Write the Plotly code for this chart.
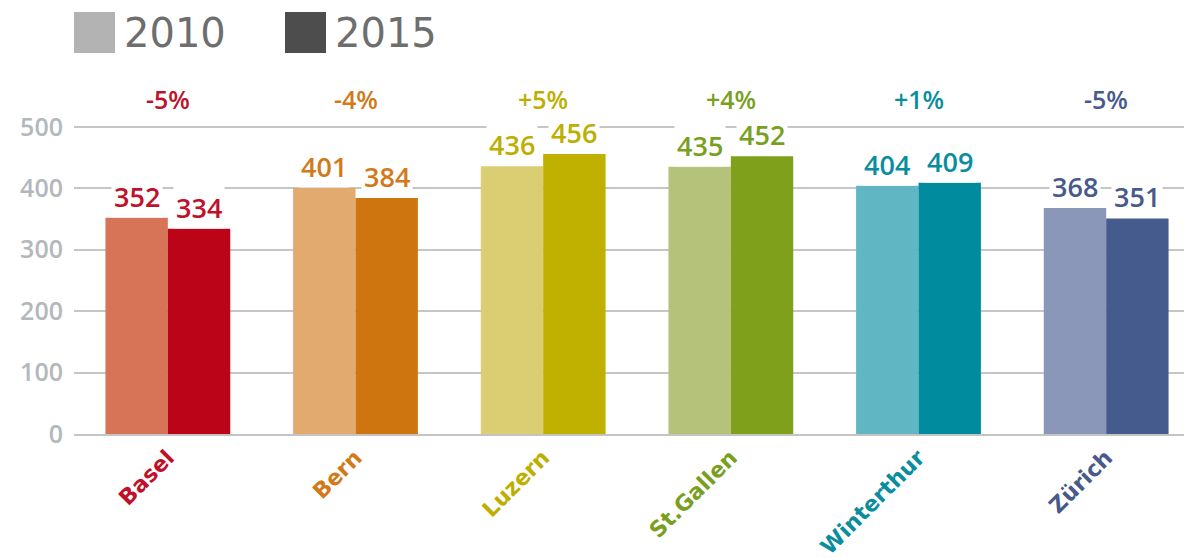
import plotly.graph_objects as go

cities = ["Basel", "Bern", "Luzern", "St.Gallen", "Winterthur", "Zürich"]
values_2010 = [352, 401, 436, 435, 404, 368]
values_2015 = [334, 384, 456, 452, 409, 351]
change_labels = ["-5%", "-4%", "+5%", "+4%", "+1%", "-5%"]
y_ticks = [0, 100, 200, 300, 400, 500]

colors_2010 = ["#D77457", "#E3AA6F", "#DBCD72", "#B4C27A", "#60B6C3", "#8B97B9"]
colors_2015 = ["#BC0419", "#CF7510", "#C0B000", "#7FA01A", "#008B9F", "#455B8D"]
text_colors = ["#C0102A", "#D27A18", "#BDAE00", "#78A01E", "#0A8D9F", "#48598C"]

W, H = 1192, 558
OFF = 8  # page body margin
L, R, T, B = 66, 0, 82, 132
BARGAP = 0.335
YMAX = 560
FONT = "DejaVu Sans"
NUMFONT = "Open Sans"

fig = go.Figure()
fig.add_trace(go.Bar(name="2010", x=cities, y=values_2010,
                     marker=dict(color=colors_2010, line=dict(width=0))))
fig.add_trace(go.Bar(name="2015", x=cities, y=values_2015,
                     marker=dict(color=colors_2015, line=dict(width=0))))

# value labels above each bar (white box hides gridlines)
bar_w = (1 - BARGAP) / 2
annotations = []
for i, c in enumerate(cities):
    for off, v in ((-bar_w / 2, values_2010[i]), (bar_w / 2, values_2015[i])):
        annotations.append(dict(
            x=i + off, y=v, xref="x", yref="y", text=str(v), showarrow=False,
            yanchor="bottom", xanchor="center", bgcolor="white", borderpad=2,
            font=dict(family=NUMFONT, size=27, color=text_colors[i], weight=600),
        ))
    annotations.append(dict(
        x=i, y=545, xref="x", yref="y", text=change_labels[i], showarrow=False,
        yanchor="middle", xanchor="center",
        font=dict(family=NUMFONT, size=25, color=text_colors[i], weight=600),
    ))

pw, ph = W - L - R, H - T - B
def px_x(p):
    return (p - OFF - L) / pw
def px_y(p):
    return (H - B - (p - OFF)) / ph

# custom legend
shapes = []
legend_items = [("2010", "#B3B3B3", 74), ("2015", "#4D4D4D", 285)]
for label, col, x0 in legend_items:
    shapes.append(dict(type="rect", xref="paper", yref="paper",
                       x0=px_x(x0), x1=px_x(x0 + 41), y0=px_y(53), y1=px_y(12),
                       fillcolor=col, line=dict(width=0)))
    annotations.append(dict(x=px_x(x0 + 48), y=px_y(33), xref="paper", yref="paper",
                            text=label, showarrow=False, xanchor="left", yanchor="middle",
                            font=dict(family=FONT, size=40, color="#6E6E6E")))

ticktext = [f"<span style='color:{text_colors[i]}'><b>{c}</b></span>" for i, c in enumerate(cities)]

fig.update_layout(
    width=W, height=H,
    margin=dict(l=L, r=R, t=T, b=B, pad=0),
    paper_bgcolor="white", plot_bgcolor="white",
    barmode="group", bargap=BARGAP, bargroupgap=0,
    showlegend=False,
    annotations=annotations, shapes=shapes,
    xaxis=dict(range=[-0.5, 5.5], tickmode="array", tickvals=list(range(len(cities))),
               ticktext=ticktext, tickangle=-45, showgrid=False, showline=True,
               linecolor="#C4C4C4", linewidth=2, ticks="",
               tickfont=dict(family=FONT, size=22)),
    yaxis=dict(range=[0, YMAX], tickmode="array", tickvals=y_ticks,
               showgrid=True, gridcolor="#C6C6C6", gridwidth=1.5, zeroline=False,
               ticklabelstandoff=10,
               tickfont=dict(family=NUMFONT, size=25, color="#B3B8BC", weight=600)),
    font=dict(family=FONT),
)

fig.write_html("out.html")
